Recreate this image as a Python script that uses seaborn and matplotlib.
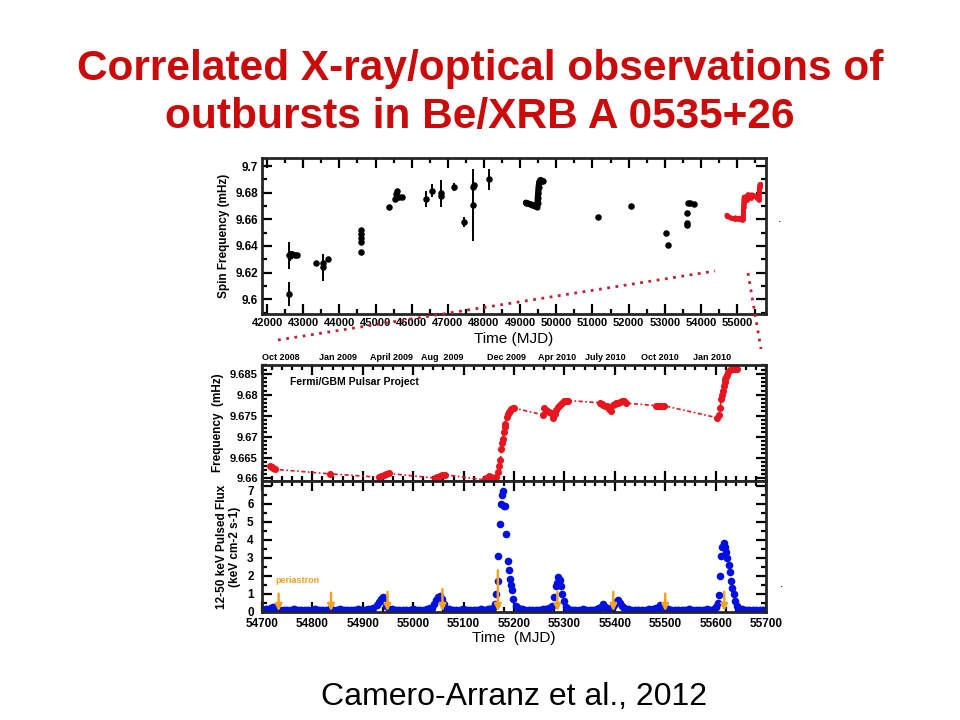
import numpy as np
import pandas as pd
import matplotlib.pyplot as plt
import seaborn as sns
from matplotlib.lines import Line2D
from matplotlib.ticker import MultipleLocator, FuncFormatter

# Historical spin frequency (top panel, black points)
hist_mjd = [42593, 42600, 42640, 42700, 42780, 42830, 43352, 43540, 43560, 43695,
            44600, 44600, 44600, 44600, 44600, 45360, 45530, 45560, 45600, 45650,
            45745, 46400, 46555, 46800, 46810, 47170, 47440, 47690, 47700, 47710,
            48136, 51152, 52068, 53024, 53097, 53627, 53627, 53627, 53640, 53700, 53800]
hist_freq = [9.6037, 9.633, 9.6325, 9.634, 9.6335, 9.6335, 9.627, 9.624, 9.627, 9.630,
             9.6355, 9.643, 9.646, 9.649, 9.652, 9.6695, 9.675, 9.679, 9.681, 9.677,
             9.6765, 9.675, 9.6815, 9.6795, 9.6775, 9.684, 9.658, 9.671, 9.684, 9.6855,
             9.690, 9.662, 9.670, 9.650, 9.641, 9.6555, 9.657, 9.665, 9.672, 9.672, 9.6715]
hist_err = [0.009, 0.010, 0.004, 0.002, 0.001, 0.001, 0.002, 0.010, 0.003, 0.002,
            0.001, 0.001, 0.001, 0.001, 0.001, 0.001, 0.002, 0.002, 0.001, 0.001,
            0.001, 0.006, 0.005, 0.010, 0.003, 0.003, 0.004, 0.027, 0.003, 0.002,
            0.008, 0.001, 0.001, 0.001, 0.001, 0.001, 0.001, 0.001, 0.001, 0.001, 0.001]

# 1994-1995 outburst track (top panel, black curve)
curve_mjd = [49160, 49200, 49260, 49320, 49400, 49460, 49480, 49490, 49500, 49510,
             49530, 49560, 49600, 49640]
curve_freq = [9.6725, 9.672, 9.6715, 9.671, 9.670, 9.6695, 9.672, 9.676, 9.680, 9.684,
              9.688, 9.6895, 9.689, 9.6885]

# Fermi/GBM frequencies (middle panel, red)
gbm_mjd = [54716, 54719, 54722, 54725, 54835,
           54932, 54937, 54942, 54947, 54952,
           55043, 55048, 55053, 55058, 55063,
           55140, 55145, 55150, 55155, 55160, 55165,
           55169, 55171, 55173, 55175, 55177, 55178, 55180, 55182, 55183, 55186,
           55188, 55190, 55193, 55195, 55198, 55200,
           55258, 55260, 55263, 55266, 55270, 55273, 55278, 55281, 55284, 55288,
           55292, 55296, 55299, 55303, 55307,
           55370, 55374, 55377, 55381, 55384, 55388, 55392, 55396, 55400, 55403,
           55407, 55410, 55414, 55418, 55422,
           55481, 55485, 55488, 55492, 55497,
           55603, 55606, 55609, 55611, 55613, 55614, 55616, 55618, 55619, 55621,
           55622, 55625, 55628, 55632, 55635, 55639, 55643]
gbm_freq = [9.6630, 9.6628, 9.6624, 9.6622, 9.6611,
            9.6603, 9.6606, 9.6609, 9.6611, 9.6612,
            9.6601, 9.6604, 9.6606, 9.6608, 9.6609,
            9.6597, 9.6602, 9.6605, 9.6604, 9.6600, 9.6604,
            9.6616, 9.6630, 9.6645, 9.6670, 9.6685, 9.6694, 9.6712, 9.6722, 9.6731, 9.6748,
            9.6753, 9.6758, 9.6762, 9.6766, 9.6768, 9.6768,
            9.6752, 9.6768, 9.6764, 9.6760, 9.6758, 9.6756, 9.6745, 9.6755, 9.6764, 9.6770,
            9.6776, 9.6780, 9.6784, 9.6786, 9.6786,
            9.6781, 9.6779, 9.6776, 9.6774, 9.6772, 9.6766, 9.6760, 9.6776, 9.6778, 9.6780,
            9.6781, 9.6783, 9.6784, 9.6784, 9.6780,
            9.6774, 9.6773, 9.6772, 9.6773, 9.6774,
            9.6745, 9.6752, 9.6768, 9.6789, 9.6800, 9.6809, 9.6822, 9.6830, 9.6837, 9.6843,
            9.6848, 9.6854, 9.6860, 9.6861, 9.6862, 9.6862, 9.6862]

# 12-50 keV pulsed flux (bottom panel, blue): quiescent level
base_mjd = [54702, 54708, 54713, 54717, 54721, 54725, 54730, 54736, 54743, 54750,
            54757, 54764, 54771, 54778, 54785, 54792, 54799, 54806, 54813, 54820,
            54827, 54834, 54841, 54848, 54855, 54862, 54869, 54876, 54883, 54890,
            54897, 54904, 54911, 54916, 54958, 54965, 54972, 54979, 54986, 54993,
            55000, 55007, 55014, 55021, 55028, 55034, 55071, 55078, 55085, 55092,
            55099, 55106, 55113, 55120, 55127, 55134, 55141, 55148, 55153, 55208,
            55215, 55222, 55229, 55236, 55243, 55250, 55257, 55264, 55270, 55308,
            55315, 55322, 55329, 55336, 55343, 55350, 55357, 55364, 55368, 55384,
            55390, 55395, 55419, 55426, 55433, 55440, 55447, 55454, 55461, 55468,
            55475, 55481, 55498, 55505, 55512, 55519, 55526, 55533, 55540, 55547,
            55554, 55561, 55568, 55575, 55582, 55589, 55596, 55601, 55647, 55653,
            55660, 55667, 55674, 55681, 55688, 55695]
base_flux = [0.10, 0.12, 0.15, 0.22, 0.28, 0.22, 0.14, 0.10, 0.08, 0.11,
             0.09, 0.12, 0.10, 0.08, 0.11, 0.10, 0.09, 0.12, 0.10, 0.08,
             0.11, 0.13, 0.10, 0.09, 0.12, 0.10, 0.08, 0.11, 0.10, 0.12,
             0.09, 0.10, 0.13, 0.16, 0.12, 0.10, 0.09, 0.11, 0.10, 0.08,
             0.12, 0.10, 0.09, 0.11, 0.14, 0.18, 0.15, 0.11, 0.09, 0.10,
             0.12, 0.08, 0.10, 0.11, 0.09, 0.12, 0.10, 0.13, 0.16, 0.18,
             0.12, 0.10, 0.09, 0.11, 0.08, 0.10, 0.12, 0.14, 0.18, 0.16,
             0.11, 0.10, 0.09, 0.12, 0.10, 0.08, 0.11, 0.14, 0.18, 0.20,
             0.16, 0.20, 0.18, 0.12, 0.10, 0.09, 0.11, 0.08, 0.10, 0.12,
             0.15, 0.20, 0.18, 0.12, 0.10, 0.09, 0.11, 0.10, 0.08, 0.12,
             0.10, 0.09, 0.11, 0.10, 0.12, 0.10, 0.15, 0.25, 0.15, 0.12,
             0.10, 0.09, 0.10, 0.11, 0.09, 0.10]
# outburst points
burst_mjd = [54920, 54928, 54933, 54937, 54940, 54943, 54947, 54952,
             55038, 55042, 55046, 55050, 55054, 55058, 55062, 55066,
             55158, 55162, 55165, 55168, 55169, 55173, 55175, 55177, 55178, 55180,
             55183, 55184, 55188, 55190, 55192, 55194, 55196, 55199, 55203,
             55276, 55280, 55283, 55286, 55288, 55291, 55293, 55296, 55299, 55303,
             55372, 55376, 55380, 55399, 55403, 55406, 55410, 55414,
             55486, 55490, 55494,
             55605, 55607, 55609, 55611, 55613, 55616, 55618, 55620, 55623, 55626,
             55629, 55631, 55633, 55636, 55638, 55642]
burst_flux = [0.22, 0.35, 0.55, 0.72, 0.80, 0.62, 0.32, 0.15,
              0.22, 0.45, 0.65, 0.80, 0.88, 0.70, 0.40, 0.15,
              0.20, 0.40, 1.00, 1.70, 3.10, 4.90, 6.00, 6.50, 6.70, 5.90,
              5.90, 4.30, 2.80, 2.30, 1.80, 1.50, 1.20, 0.70, 0.30,
              0.30, 0.80, 1.40, 1.60, 1.90, 1.75, 1.40, 1.00, 0.60, 0.25,
              0.25, 0.40, 0.25, 0.35, 0.55, 0.62, 0.50, 0.30,
              0.22, 0.35, 0.20,
              0.50, 0.90, 2.00, 3.10, 3.60, 3.80, 3.60, 3.30, 3.00, 2.60,
              2.20, 1.70, 1.30, 1.00, 0.60, 0.30]

# periastron passages (orange arrows) and arrow top heights
peri_mjd = [54733, 54837, 54949, 55058, 55168, 55286, 55397, 55500, 55617]
peri_top = [1.0, 1.05, 1.1, 1.25, 2.3, 1.1, 1.1, 1.0, 1.1]

# calendar labels above the middle panel
date_mjd = [54738, 54851, 54956, 55057, 55186, 55285, 55381, 55490, 55593]
date_labels = ["Oct 2008", "Jan 2009", "April 2009", "Aug  2009", "Dec 2009",
               "Apr 2010", "July 2010", "Oct 2010", "Jan 2010"]

flux_ticks = [0, 1, 2, 3, 4, 5, 6, 7]

sns.set_style("ticks")
plt.rcParams['font.family'] = ['Liberation Sans', 'DejaVu Sans']
plt.rcParams['text.color'] = 'black'
plt.rcParams['axes.labelcolor'] = 'black'
plt.rcParams['xtick.color'] = 'black'
plt.rcParams['ytick.color'] = 'black'

RED = "#E8141E"
BLUE = "#0010E0"
ORANGE = "#F5A21E"
TITLE_RED = "#CC0A0A"

fig = plt.figure(figsize=(9.6, 7.2), dpi=100)
W, H = 960, 720


def box(left, top, right, bottom):
    return [left / W, 1 - bottom / H, (right - left) / W, (bottom - top) / H]


ax_top = fig.add_axes(box(262, 158, 766, 314))
ax_mid = fig.add_axes(box(262, 365, 766, 481))
ax_bot = fig.add_axes(box(262, 481, 766, 612))


def style_axis(ax):
    for sp in ax.spines.values():
        sp.set_linewidth(2)
        sp.set_visible(True)
    ax.tick_params(which="both", direction="in", top=True, right=True, width=1.6,
                   colors="black", labelsize=8.5, pad=3)
    ax.tick_params(which="major", length=7)
    ax.tick_params(which="minor", length=3.5)
    for lab in ax.get_xticklabels() + ax.get_yticklabels():
        lab.set_fontweight("bold")


# ---- top panel
ax_top.errorbar(hist_mjd, hist_freq, yerr=hist_err, fmt="none", ecolor="black",
                elinewidth=1.4, capsize=0)
sns.scatterplot(x=hist_mjd, y=hist_freq, ax=ax_top, color="black", s=22, linewidth=0)
sns.lineplot(x=curve_mjd, y=curve_freq, ax=ax_top, color="black", lw=4.5, sort=False)
sns.scatterplot(x=curve_mjd, y=curve_freq, ax=ax_top, color="black", s=20, linewidth=0)
sns.lineplot(x=gbm_mjd, y=gbm_freq, ax=ax_top, color=RED, lw=3.5, sort=False)
sns.scatterplot(x=gbm_mjd, y=gbm_freq, ax=ax_top, color=RED, s=12, linewidth=0)
ax_top.set_xlim(41860, 55800)
ax_top.set_ylim(9.589, 9.706)
ax_top.xaxis.set_major_locator(MultipleLocator(1000))
ax_top.xaxis.set_minor_locator(MultipleLocator(500))
ax_top.yaxis.set_major_locator(MultipleLocator(0.02))
ax_top.yaxis.set_minor_locator(MultipleLocator(0.01))
ax_top.yaxis.set_major_formatter(FuncFormatter(lambda v, p: f"{v:.2f}".rstrip("0")))
ax_top.set_xlabel("Time (MJD)", fontsize=11, labelpad=3)
ax_top.set_ylabel("Spin Frequency (mHz)", fontsize=8.5, fontweight="bold", labelpad=4)
style_axis(ax_top)
ax_top.tick_params(axis="x", labelsize=8, pad=3)

# ---- middle panel
sns.lineplot(x=gbm_mjd, y=gbm_freq, ax=ax_mid, color=RED, lw=1.2, sort=False,
             linestyle=(0, (2.5, 1.5, 1, 1.5)))
sns.scatterplot(x=gbm_mjd, y=gbm_freq, ax=ax_mid, color=RED, s=26, linewidth=0)
ax_mid.set_xlim(54700, 55700)
ax_mid.set_ylim(9.6594, 9.6871)
ax_mid.xaxis.set_major_locator(MultipleLocator(100))
ax_mid.xaxis.set_minor_locator(MultipleLocator(20))
ax_mid.yaxis.set_major_locator(MultipleLocator(0.005))
ax_mid.yaxis.set_minor_locator(MultipleLocator(0.001))
ax_mid.yaxis.set_major_formatter(FuncFormatter(lambda v, p: f"{v:.3f}".rstrip("0")))
ax_mid.set_ylabel("Frequency  (mHz)", fontsize=8.5, fontweight="bold", labelpad=4)
ax_mid.text(0.055, 0.83, "Fermi/GBM Pulsar Project", transform=ax_mid.transAxes,
            fontsize=7.5, fontweight="bold")
style_axis(ax_mid)
ax_mid.tick_params(axis="x", labelbottom=False)
ax_mid.tick_params(axis="y", labelsize=8)
sec = ax_mid.secondary_xaxis("top")
sec.set_xticks(date_mjd, labels=date_labels)
sec.tick_params(length=0, pad=2, labelsize=6.5)
for lab in sec.get_xticklabels():
    lab.set_fontweight("bold")
sec.spines["top"].set_visible(False)

# ---- bottom panel
sns.scatterplot(x=base_mjd, y=base_flux, ax=ax_bot, color=BLUE, s=32, linewidth=0)
sns.scatterplot(x=burst_mjd, y=burst_flux, ax=ax_bot, color=BLUE, s=30, linewidth=0)
for m, top in zip(peri_mjd, peri_top):
    ax_bot.annotate("", xy=(m, 0.02), xytext=(m, top),
                    arrowprops=dict(arrowstyle="-|>", color=ORANGE, lw=1.8,
                                    mutation_scale=10, shrinkA=0, shrinkB=0))
ax_bot.text(54727, 1.6, "periastron", color=ORANGE, fontsize=6.5, fontweight="bold")
ax_bot.set_xlim(54700, 55700)
ax_bot.set_ylim(-0.02, 7.27)
ax_bot.xaxis.set_major_locator(MultipleLocator(100))
ax_bot.xaxis.set_minor_locator(MultipleLocator(20))
ax_bot.set_yticks(flux_ticks, labels=[str(t) for t in flux_ticks])
ax_bot.yaxis.set_minor_locator(MultipleLocator(0.5))
ax_bot.set_xlabel("Time  (MJD)", fontsize=11, labelpad=1)
ax_bot.set_ylabel("12-50 keV Pulsed Flux\n(keV cm-2 s-1)", fontsize=8.5,
                  fontweight="bold", labelpad=4, linespacing=1.2)
style_axis(ax_bot)
ax_bot.tick_params(axis="y", pad=6)
ax_bot.tick_params(axis="x", pad=4)
ax_bot.get_yticklabels()[-1].set_verticalalignment("top")

# connector lines between the top and middle panels
conn = dict(color="#C81E32", lw=2, linestyle=(0, (1, 2)))
fig.add_artist(Line2D([278 / W, 715 / W], [1 - 340 / H, 1 - 271 / H], **conn))
fig.add_artist(Line2D([748 / W, 761 / W], [1 - 273 / H, 1 - 349 / H], **conn))
fig.text(778 / W, 1 - 222 / H, ".", fontsize=9)
fig.text(780 / W, 1 - 587 / H, ".", fontsize=9)

# slide title and citation
fig.text(0.5, 1 - 93 / H, "Correlated X-ray/optical observations of\noutbursts in Be/XRB A 0535+26",
         ha="center", va="center", color=TITLE_RED, fontsize=30.5, fontweight="bold",
         linespacing=1.25)
fig.text(514 / W, 1 - 697 / H, "Camero-Arranz et al., 2012", ha="center", va="center",
         fontsize=23, color="black")

fig.savefig("out.png", dpi=100)
